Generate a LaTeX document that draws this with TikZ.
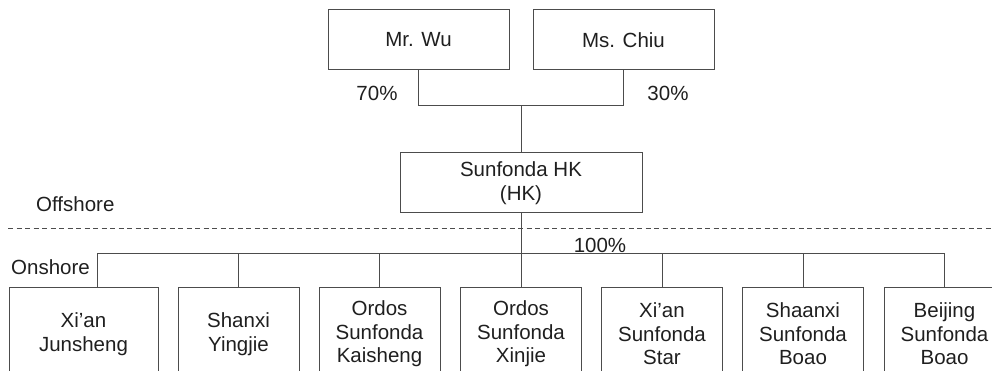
\documentclass[tikz,border=0pt]{standalone}
\usepackage{fontspec}
\setmainfont{Liberation Sans}
\begin{document}
\begin{tikzpicture}[x=1pt,y=-1pt,
  every node/.style={text=black!88, font=\fontsize{20.5}{23.5}\selectfont},
  box/.style={draw=black!70, line width=1pt, rectangle, inner sep=0pt, align=center},
  conn/.style={draw=black!70, line width=1pt},
  lbl/.style={inner sep=0pt}]
\useasboundingbox (0,0) rectangle (992,371);
\clip (0,0) rectangle (992,371);
% owners
\node[box, minimum width=181pt, minimum height=60pt] (wu) at (418.5,40) {Mr. Wu};
\node[box, minimum width=181pt, minimum height=60pt] (chiu) at (623.5,40) {Ms. Chiu};
\node[box, minimum width=242pt, minimum height=60pt] (hk) at (521,183) {Sunfonda HK\\(HK)};
% subsidiaries
\node[box, minimum width=149pt, minimum height=94pt] (s1) at (83.5,334) {Xi’an\\Junsheng};
\node[box, minimum width=121pt, minimum height=94pt] (s2) at (238.5,334) {Shanxi\\Yingjie};
\node[box, minimum width=121pt, minimum height=94pt] (s3) at (379.5,334) {Ordos\\Sunfonda\\Kaisheng};
\node[box, minimum width=121pt, minimum height=94pt] (s4) at (521,334) {Ordos\\Sunfonda\\Xinjie};
\node[box, minimum width=121pt, minimum height=94pt] (s5) at (662,334) {Xi’an\\Sunfonda\\Star};
\node[box, minimum width=121pt, minimum height=94pt] (s6) at (803,334) {Shaanxi\\Sunfonda\\Boao};
\node[box, minimum width=121pt, minimum height=94pt] (s7) at (944.5,334) {Beijing\\Sunfonda\\Boao};
% labels
\node[lbl] (p70) at (377,93) {70\%};
\node[lbl] (p30) at (668,93) {30\%};
\node[lbl, anchor=west] (off) at (36,204) {Offshore};
\node[lbl, anchor=west] (on) at (11,267) {Onshore};
\node[lbl] (p100) at (600,245) {100\%};
% coordinates
\coordinate (j) at (521,106);
\coordinate (bus) at (521,253);
\coordinate (b1) at (97,253);
\coordinate (b7) at (944.5,253);
\coordinate (dl) at (8,229);
\coordinate (dr) at (992,229);
% connectors
\draw[conn] (wu.south) -- (wu.south |- j) -- (chiu.south |- j) -- (chiu.south);
\draw[conn] (j) -- (hk.north);
\draw[conn] (hk.south) -- (s4.north);
\draw[conn] (b1) -- (b7);
\draw[conn] (b1) -- (b1 |- s1.north);
\draw[conn] (s2.north) -- (s2.north |- bus);
\draw[conn] (s3.north) -- (s3.north |- bus);
\draw[conn] (s5.north) -- (s5.north |- bus);
\draw[conn] (s6.north) -- (s6.north |- bus);
\draw[conn] (s7.north) -- (s7.north |- bus);
\draw[conn, dash pattern=on 5pt off 3.5pt] (dl) -- (dr);
\end{tikzpicture}
\end{document}
